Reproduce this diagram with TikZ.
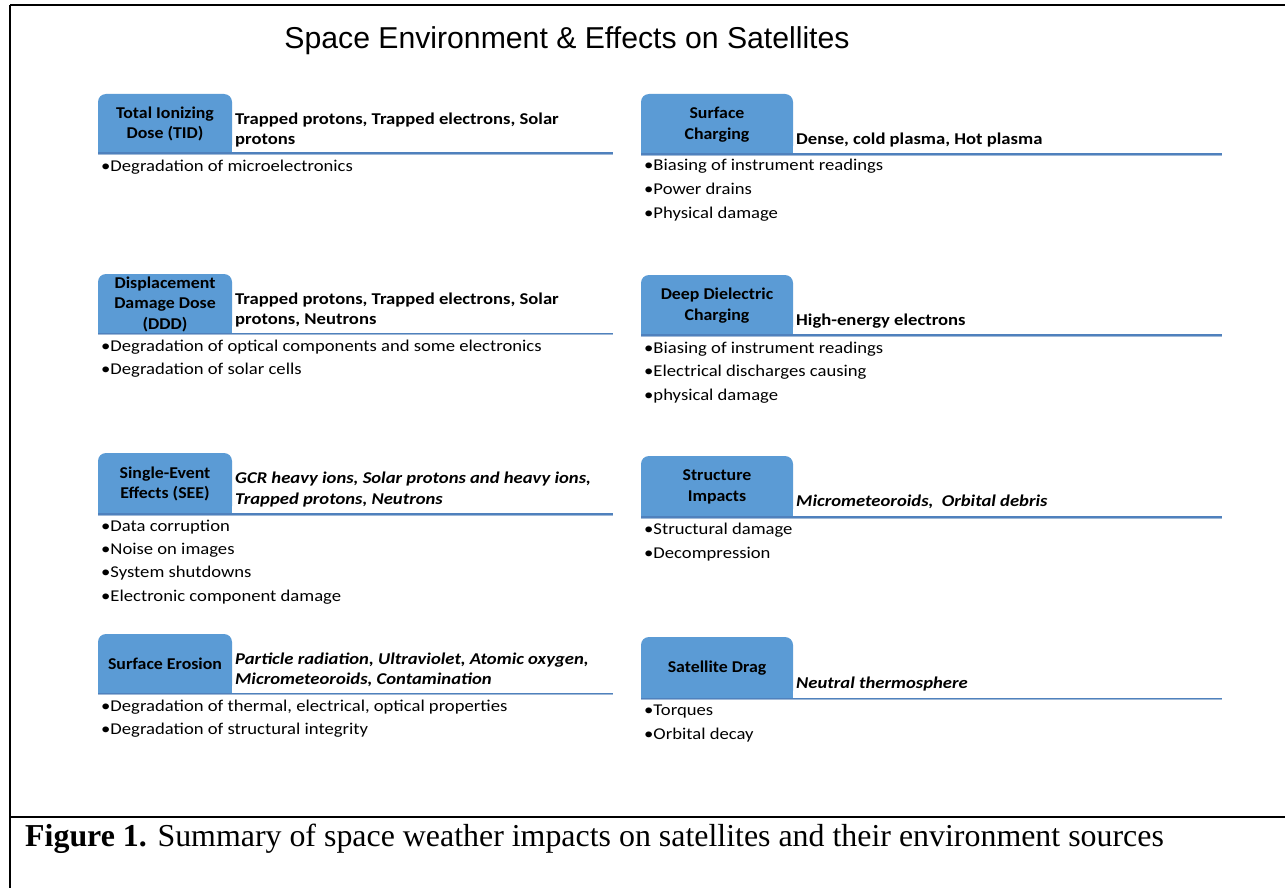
\documentclass[tikz,border=0pt]{standalone}
\usepackage{fontspec}
\setmainfont{Carlito}
\newfontfamily\bodyf[FakeStretch=1.13]{Carlito}
\newfontfamily\tabf[FakeStretch=1.08]{Carlito}
\newfontfamily\titlefont{Liberation Sans}
\newfontfamily\capfont{Liberation Serif}
\definecolor{boxblue}{RGB}{91,155,213}
\definecolor{ruleblue}{RGB}{79,129,189}
\definecolor{ruleshade}{RGB}{160,185,215}
\newcommand\tabbox[7]{% name, x1, y1, x2, y2, rule end x, text
  \fill[tab, rounded corners=8pt] (#2,#3) rectangle (#4,#5);
  \fill[tab] (#2,{(#3+#5)/2}) rectangle (#4,#5);
  \node[tabtext] (#1) at ({(#2+#4)/2},{(#3+#5)/2+0.5}) {#7};
  \coordinate (#1-rs) at (#2,#5);
  \coordinate (#1-re) at (#6,#5);
  \draw[ruleshadestyle] ([yshift=-1.2pt]#1-rs) -- ([yshift=-1.2pt]#1-re);
  \draw[rulestyle] (#1-rs) -- (#1-re);
}
\begin{document}
\begin{tikzpicture}[x=1pt,y=-1pt,
  framel/.style={line width=2pt, black},
  tab/.style={fill=boxblue},
  tabtext/.style={font=\tabf\fontsize{16.5}{20.5}\selectfont\bfseries, align=center, inner sep=0},
  head/.style={font=\bodyf\fontsize{16.5}{20}\selectfont\bfseries, inner sep=0, anchor=base west},
  ihead/.style={font=\bodyf\fontsize{16.5}{20}\selectfont\bfseries\itshape, inner sep=0, anchor=base west},
  bul/.style={font=\bodyf\fontsize{16.5}{23.5}\selectfont, inner sep=0, anchor=base west},
  rulestyle/.style={ruleblue, line width=1.4pt},
  ruleshadestyle/.style={ruleshade, line width=1pt}]
\useasboundingbox (0,0) rectangle (1285,888);
\fill[white] (0,0) rectangle (1285,888);
% frame
\coordinate (ftl) at (10,5);
\coordinate (ftr) at (1285,5);
\coordinate (fbl) at (10,888);
\coordinate (fml) at (10,817);
\coordinate (fmr) at (1285,817);
\draw[line width=1.5pt] (ftl) -- (ftr);
\draw[framel] (ftl) -- (fbl);
\draw[line width=2.5pt] (fml) -- (fmr);
% title
\node[font=\titlefont\fontsize{30.2}{35}\selectfont, inner sep=0] (title) at (567,41) {Space Environment \& Effects on Satellites};
% ---- L1
\tabbox{tid}{98}{94}{232}{153}{613}{Total Ionizing\\Dose (TID)}
\node[head] (tidh1) at (235,124.5) {Trapped protons, Trapped electrons, Solar};
\node[head] (tidh2) at (235,144.5) {protons};
\node[bul] (tidb1) at (101,171.5) {•Degradation of microelectronics};
% ---- R1
\tabbox{sc}{641}{94}{793}{154}{1222}{Surface\\Charging}
\node[head] (sch1) at (796,145) {Dense, cold plasma, Hot plasma};
\node[bul] (scb1) at (644,171) {•Biasing of instrument readings};
\node[bul] (scb2) at (644,194.5) {•Power drains};
\node[bul] (scb3) at (644,218) {•Physical damage};
% ---- L2
\tabbox{ddd}{98}{274}{232}{333.5}{613}{Displacement\\Damage Dose\\(DDD)}
\node[head] (dddh1) at (235,304.5) {Trapped protons, Trapped electrons, Solar};
\node[head] (dddh2) at (235,324.5) {protons, Neutrons};
\node[bul] (dddb1) at (101,351) {•Degradation of optical components and some electronics};
\node[bul] (dddb2) at (101,374) {•Degradation of solar cells};
% ---- R2
\tabbox{ddc}{641}{275}{793}{335}{1222}{Deep Dielectric\\Charging}
\node[head] (ddch1) at (796,325.5) {High-energy electrons};
\node[bul] (ddcb1) at (644,353) {•Biasing of instrument readings};
\node[bul] (ddcb2) at (644,376) {•Electrical discharges causing};
\node[bul] (ddcb3) at (644,400) {•physical damage};
% ---- L3
\tabbox{see}{98}{453}{232}{514}{613}{Single-Event\\Effects (SEE)}
\node[ihead] (seeh1) at (235,483.5) {GCR heavy ions, Solar protons and heavy ions,};
\node[ihead] (seeh2) at (235,504.5) {Trapped protons, Neutrons};
\node[bul] (seeb1) at (101,531) {•Data corruption};
\node[bul] (seeb2) at (101,554) {•Noise on images};
\node[bul] (seeb3) at (101,577) {•System shutdowns};
\node[bul] (seeb4) at (101,601) {•Electronic component damage};
% ---- R3
\tabbox{si}{641}{456}{793}{517}{1222}{Structure\\Impacts}
\node[ihead] (sih1) at (796,506.5) {Micrometeoroids, ~Orbital debris};
\node[bul] (sib1) at (644,534) {•Structural damage};
\node[bul] (sib2) at (644,558) {•Decompression};
% ---- L4
\tabbox{se}{98}{634}{232}{693.5}{613}{Surface Erosion}
\node[ihead] (seh1) at (235,664.5) {Particle radiation, Ultraviolet, Atomic oxygen,};
\node[ihead] (seh2) at (235,684.5) {Micrometeoroids, Contamination};
\node[bul] (seb1) at (101,711) {•Degradation of thermal, electrical, optical properties};
\node[bul] (seb2) at (101,734) {•Degradation of structural integrity};
% ---- R4
\tabbox{sd}{641}{637}{793}{698.5}{1222}{Satellite Drag}
\node[ihead] (sdh1) at (796,688.5) {Neutral thermosphere};
\node[bul] (sdb1) at (644,715) {•Torques};
\node[bul] (sdb2) at (644,739) {•Orbital decay};
% caption
\node[font=\capfont\fontsize{31.9}{36}\selectfont, inner sep=0, anchor=base west] (cap) at (25,846) {\textbf{Figure 1.} Summary of space weather impacts on satellites and their environment sources};
\end{tikzpicture}
\end{document}
